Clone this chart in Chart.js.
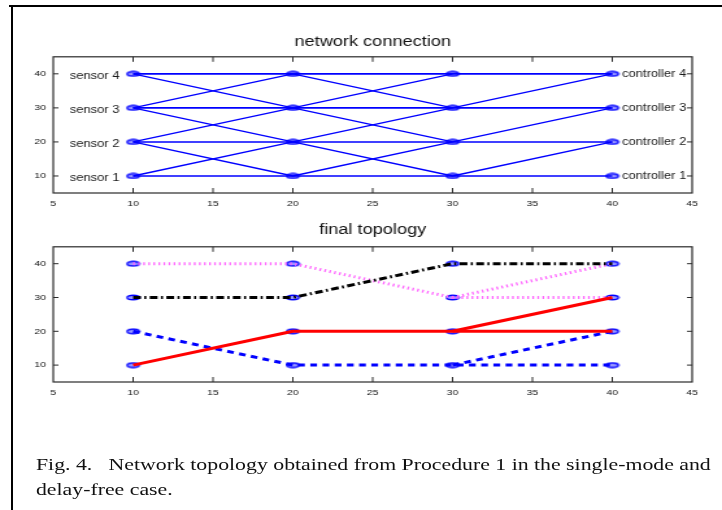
<!DOCTYPE html>
<html>
<head>
<meta charset="utf-8">
<script src="https://cdn.jsdelivr.net/npm/chart.js@4.4.1/dist/chart.umd.min.js"></script>
<style>
  html,body{margin:0;padding:0;background:#fff;width:722px;height:510px;overflow:hidden;}
  #stage{position:absolute;left:0;top:0;width:556px;height:510px;transform:scaleX(1.29856);transform-origin:0 0;}
  canvas{position:absolute;}
  #c1{left:18px;top:0px;}
  #c2{left:18px;top:190px;}
  #caption{position:absolute;left:27.7px;top:453px;font-family:"Liberation Serif","Times New Roman",serif;font-size:16.8px;line-height:24.5px;white-space:pre;color:#111;}
  #topRule{position:absolute;left:9px;top:5px;width:713px;height:2px;background:#000;}
  #leftRule{position:absolute;left:11px;top:5px;width:2px;height:505px;background:#000;}
</style>
</head>
<body>
<div id="topRule"></div>
<div id="leftRule"></div>
<div id="stage">
  <canvas id="c1" width="538" height="215"></canvas>
  <canvas id="c2" width="538" height="215"></canvas>
  <div id="caption">Fig. 4.   Network topology obtained from Procedure 1 in the single-mode and
delay-free case.</div>
</div>
<script>
// ---- axis ticks ----
const xTicks = [5, 10, 15, 20, 25, 30, 35, 40, 45];
const yTicks = [10, 20, 30, 40];
// ---- node columns / levels ----
const nodeX = [10, 20, 30, 40];
const nodeY = [10, 20, 30, 40];
const sensorNames = ['sensor 1', 'sensor 2', 'sensor 3', 'sensor 4'];
const controllerNames = ['controller 1', 'controller 2', 'controller 3', 'controller 4'];
// ---- network connection: y of each path at successive nodeX ----
const hLinks = [10, 20, 30, 40];
const pathA = [10, 20, 10, 20];
const pathB = [20, 10, 20, 30];
const pathC = [20, 30, 20];
const pathD = [30, 20, 30, 40];
const pathE = [30, 40, 30];
const pathF = [40, 30, 40];
// ---- final topology ----
const redMain = [10, 20, 20, 20];
const redBranch = [20, 30];        // at x = 30, 40
const blueMain = [20, 10, 10, 10];
const blueBranch = [10, 20];       // at x = 30, 40
const blackMain = [30, 30, 40, 40];
const magentaMain = [40, 40, 30, 30];
const magentaBranch = [30, 40];    // at x = 30, 40

function pts(ys, xs) { xs = xs || nodeX; return ys.map((y, i) => ({x: xs[i], y: y})); }

function ellipseMarker() {
  const c = document.createElement('canvas');
  c.width = 12; c.height = 7;
  const g = c.getContext('2d');
  g.beginPath();
  g.ellipse(6, 3.5, 4.7, 2.3, 0, 0, Math.PI * 2);
  g.fillStyle = 'rgba(70,70,255,0.55)';
  g.fill();
  g.lineWidth = 1.4;
  g.strokeStyle = '#0000ff';
  g.stroke();
  return c;
}
const marker = ellipseMarker();

const allNodes = [];
nodeX.forEach(x => nodeY.forEach(y => allNodes.push({x: x, y: y})));

const framePlugin = {
  id: 'frame',
  afterDraw(chart) {
    const {ctx, chartArea: a} = chart;
    const x = chart.scales.x, y = chart.scales.y;
    ctx.save();
    ctx.strokeStyle = '#2a2a2a';
    ctx.lineWidth = 1.2;
    ctx.strokeRect(a.left, a.top, a.right - a.left, a.bottom - a.top);
    ctx.lineWidth = 1;
    ctx.beginPath();
    x.ticks.forEach(t => {
      if (t.value <= x.min || t.value >= x.max) return;
      const px = x.getPixelForValue(t.value);
      ctx.moveTo(px, a.bottom); ctx.lineTo(px, a.bottom - 5);
      ctx.moveTo(px, a.top); ctx.lineTo(px, a.top + 5);
    });
    y.ticks.forEach(t => {
      if (t.value <= y.min || t.value >= y.max) return;
      const py = y.getPixelForValue(t.value);
      ctx.moveTo(a.left, py); ctx.lineTo(a.left + 4, py);
      ctx.moveTo(a.right, py); ctx.lineTo(a.right - 4, py);
    });
    ctx.stroke();
    ctx.restore();
  }
};

const nodeLabelPlugin = {
  id: 'nodeLabels',
  afterDatasetsDraw(chart) {
    const {ctx} = chart;
    const x = chart.scales.x, y = chart.scales.y;
    ctx.save();
    ctx.font = '10px "Liberation Sans", Arial, sans-serif';
    ctx.fillStyle = '#1a1a1a';
    ctx.textBaseline = 'middle';
    ctx.textAlign = 'right';
    sensorNames.forEach((s, i) => {
      ctx.fillText(s, x.getPixelForValue(nodeX[0]) - 10.5, y.getPixelForValue(nodeY[i]) + 2.5);
    });
    ctx.textAlign = 'left';
    controllerNames.forEach((s, i) => {
      ctx.fillText(s, x.getPixelForValue(nodeX[nodeX.length - 1]) + 7.5, y.getPixelForValue(nodeY[i]) + 0.5);
    });
    ctx.restore();
  }
};

const tickFont = {family: '"Liberation Sans", Arial, sans-serif', size: 8};

function baseOptions(titleText, titlePad, axisH, xPad) {
  return {
    responsive: false,
    animation: false,
    devicePixelRatio: 1,
    layout: {padding: 0},
    plugins: {
      legend: {display: false},
      tooltip: {enabled: false},
      title: {
        display: true, text: titleText, color: '#111',
        font: {family: '"Liberation Sans", Arial, sans-serif', size: 14, weight: 'normal', lineHeight: 1.2},
        padding: titlePad
      }
    },
    scales: {
      x: {
        type: 'linear', position: 'bottom', min: 5, max: 45,
        afterBuildTicks: s => { s.ticks = xTicks.map(v => ({value: v})); },
        afterFit: s => { s.height = axisH; },
        grid: {display: false, drawTicks: false, tickLength: 0},
        border: {display: false},
        ticks: {font: tickFont, color: '#111', padding: xPad, maxRotation: 0, autoSkip: false}
      },
      y: {
        type: 'linear', position: 'left', min: 5, max: 45,
        afterBuildTicks: s => { s.ticks = yTicks.map(v => ({value: v})); },
        afterFit: s => { s.width = 23; },
        grid: {display: false, drawTicks: false, tickLength: 0},
        border: {display: false},
        ticks: {font: tickFont, color: '#111', padding: 5.5, autoSkip: false}
      },
      yRight: {
        type: 'linear', position: 'right', min: 5, max: 45,
        afterBuildTicks: s => { s.ticks = yTicks.map(v => ({value: v})); },
        afterFit: s => { s.width = 23; },
        grid: {display: false, drawTicks: false, tickLength: 0},
        border: {display: false},
        ticks: {display: false}
      }
    }
  };
}

function lineDs(data, color, width, dash) {
  return {data: data, showLine: true, borderColor: color, backgroundColor: color,
          borderWidth: width, borderDash: dash || [], pointRadius: 0, pointHoverRadius: 0,
          borderCapStyle: 'butt', borderJoinStyle: 'round', tension: 0};
}
function markerDs() {
  return {data: allNodes, showLine: false, pointStyle: marker, pointRadius: 3, pointHoverRadius: 3,
          borderColor: '#0000ff', backgroundColor: '#0000ff'};
}

// ---- chart 1: network connection ----
const blue = '#0000ff';
const ds1 = [];
[pathA, pathB, pathD].forEach(p => ds1.push(lineDs(pts(p), blue, 1.4)));
[pathC, pathE, pathF].forEach(p => ds1.push(lineDs(pts(p), blue, 1.4)));
hLinks.forEach(h => ds1.push(lineDs([{x: nodeX[0], y: h}, {x: nodeX[nodeX.length - 1], y: h}], blue, 1.6)));
ds1.push(markerDs());

new Chart(document.getElementById('c1'), {
  type: 'scatter',
  data: {datasets: ds1},
  options: baseOptions('network connection', {top: 34, bottom: 6}, 22, 5.5),
  plugins: [framePlugin, nodeLabelPlugin]
});

// ---- chart 2: final topology ----
const branchX = nodeX.slice(2);
const ds2 = [
  lineDs(pts(redMain), '#ff0000', 3),
  lineDs(pts(redBranch, branchX), '#ff0000', 3),
  lineDs(pts(blackMain), '#000000', 3, [6, 2.6, 1.6, 2.6]),
  lineDs(pts(blueMain), '#0000ff', 3, [5.2, 4.2]),
  lineDs(pts(blueBranch, branchX), '#0000ff', 3, [5.2, 4.2]),
  lineDs(pts(magentaMain), '#ff66ff', 3, [1.3, 2.6]),
  lineDs(pts(magentaBranch, branchX), '#ff66ff', 3, [1.3, 2.6]),
  markerDs()
];

new Chart(document.getElementById('c2'), {
  type: 'scatter',
  data: {datasets: ds2},
  options: baseOptions('final topology', {top: 32, bottom: 8}, 23, 6),
  plugins: [framePlugin]
});
</script>
</body>
</html>
